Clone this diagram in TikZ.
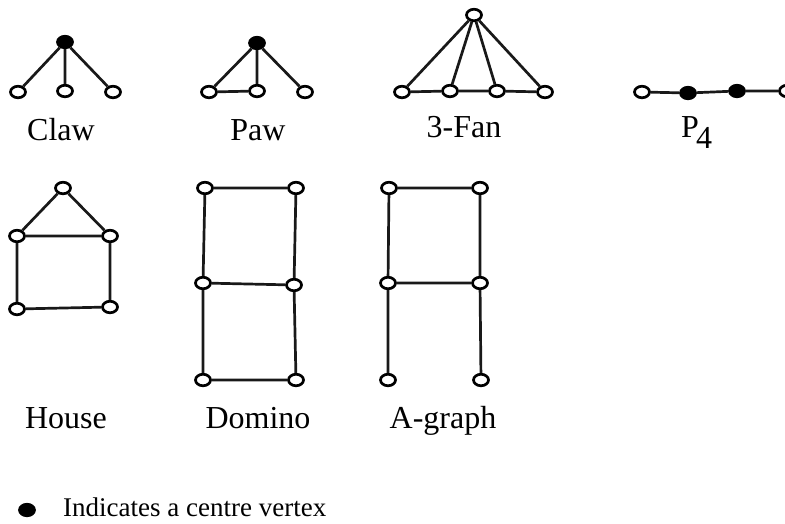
\documentclass[tikz,border=0pt]{standalone}
\usepackage{fontspec}
\setmainfont{Liberation Serif}
\usetikzlibrary{shapes.geometric}

\begin{document}
\begin{tikzpicture}[
  x=1pt, y=-1pt,
  vtx/.style={ellipse, draw=black, fill=white, line width=2.7pt,
              minimum width=15pt, minimum height=11.5pt, inner sep=0pt},
  cvtx/.style={vtx, fill=black},
  edge/.style={line width=2.7pt, draw=black!90},
  lbl/.style={anchor=base, inner sep=0pt, font=\fontsize{32}{36}\selectfont},
  key/.style={anchor=base west, inner sep=0pt, font=\fontsize{27}{30}\selectfont},
]
\useasboundingbox (0,0) rectangle (785,523);
% claw
\node[cvtx] (c0) at (65,42) {};
\node[vtx]  (c1) at (18,92) {};
\node[vtx]  (c2) at (65,91) {};
\node[vtx]  (c3) at (113,92) {};
\node[lbl]  (claw) at (61,140) {Claw};
% paw
\node[cvtx] (p0) at (257,43) {};
\node[vtx]  (p1) at (209,92) {};
\node[vtx]  (p2) at (257,91) {};
\node[vtx]  (p3) at (305,92) {};
\node[lbl]  (paw) at (258,140) {Paw};
% 3-fan
\node[vtx]  (f0) at (474,15) {};
\node[vtx]  (f1) at (402,92) {};
\node[vtx]  (f2) at (450,91) {};
\node[vtx]  (f3) at (497,91) {};
\node[vtx]  (f4) at (545,92) {};
\node[lbl]  (fan) at (464,137) {3-Fan};
% P4
\node[vtx]  (q1) at (642,92) {};
\node[cvtx] (q2) at (688,93) {};
\node[cvtx] (q3) at (737,91) {};
\node[vtx]  (q4) at (787,91) {};
\node[lbl, anchor=base west] (path) at (681,137)
  {P\kern-3pt\raisebox{-11pt}{4}};
% house
\node[vtx]  (h0) at (63,188) {};
\node[vtx]  (h1) at (17,236) {};
\node[vtx]  (h2) at (110,236) {};
\node[vtx]  (h3) at (17,309) {};
\node[vtx]  (h4) at (110,307) {};
\node[lbl]  (house) at (66,428) {House};
% domino
\node[vtx]  (d1) at (205,188) {};
\node[vtx]  (d2) at (296,188) {};
\node[vtx]  (d3) at (203,283) {};
\node[vtx]  (d4) at (294,285) {};
\node[vtx]  (d5) at (203,380) {};
\node[vtx]  (d6) at (296,380) {};
\node[lbl]  (domino) at (258,428) {Domino};
% A-graph
\node[vtx]  (a1) at (389,188) {};
\node[vtx]  (a2) at (480,188) {};
\node[vtx]  (a3) at (388,283) {};
\node[vtx]  (a4) at (480,283) {};
\node[vtx]  (a5) at (388,380) {};
\node[vtx]  (a6) at (481,380) {};
\node[lbl]  (agraph) at (443,428) {A-graph};
% legend
\node[cvtx] (l0) at (27,510) {};
\node[key]  (note) at (63,516) {Indicates a centre vertex};

\draw[edge] (c0)--(c1) (c0)--(c2) (c0)--(c3);
\draw[edge] (p0)--(p1) (p0)--(p2) (p0)--(p3) (p1)--(p2);
\draw[edge] (f0)--(f1) (f0)--(f2) (f0)--(f3) (f0)--(f4);
\draw[edge] (f1)--(f2)--(f3)--(f4);
\draw[edge] (q1)--(q2)--(q3)--(q4);
\draw[edge] (h0)--(h1) (h0)--(h2) (h1)--(h2) (h1)--(h3) (h2)--(h4) (h3)--(h4);
\draw[edge] (d1)--(d2) (d1)--(d3) (d2)--(d4) (d3)--(d4)
            (d3)--(d5) (d4)--(d6) (d5)--(d6);
\draw[edge] (a1)--(a2) (a1)--(a3) (a2)--(a4) (a3)--(a4)
            (a3)--(a5) (a4)--(a6);
\end{tikzpicture}
\end{document}
